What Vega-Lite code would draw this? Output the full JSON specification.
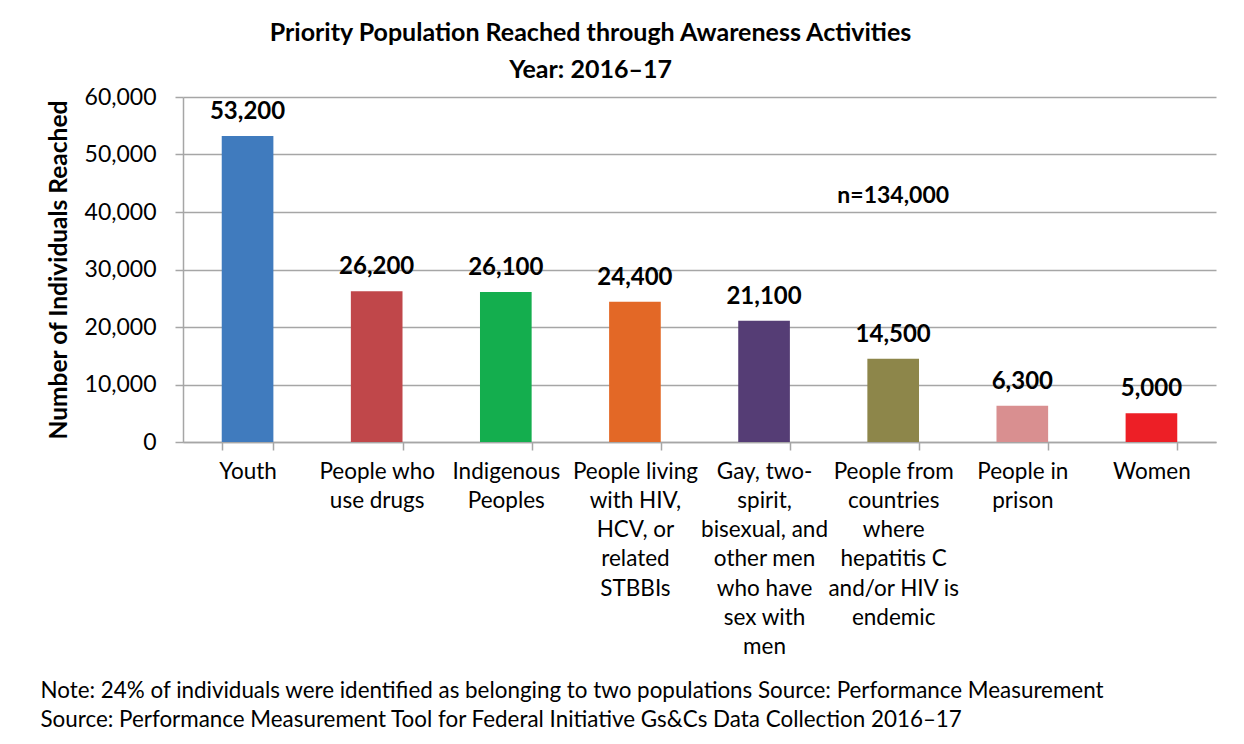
{
  "$schema": "https://vega.github.io/schema/vega-lite/v6.json",
  "autosize": {"type": "none"},
  "width": 1033,
  "height": 345,
  "padding": {"left": 183, "top": 97, "right": 28, "bottom": 302},
  "background": "white",
  "title": {
    "text": ["Priority Population Reached through Awareness Activities", "Year: 2016\u201317"],
    "font": "Lato",
    "fontSize": 25,
    "fontWeight": "bold",
    "color": "#000000",
    "anchor": "middle",
    "frame": "group",
    "lineHeight": 37,
    "dx": -109,
    "offset": 3
  },
  "data": {
    "values": [
      {"population": "Youth", "reached": 53200},
      {"population": "People who use drugs", "reached": 26200},
      {"population": "Indigenous Peoples", "reached": 26100},
      {"population": "People living with HIV, HCV, or related STBBIs", "reached": 24400},
      {"population": "Gay, two-spirit, bisexual, and other men who have sex with men", "reached": 21100},
      {"population": "People from countries where hepatitis C and/or HIV is endemic", "reached": 14500},
      {"population": "People in prison", "reached": 6300},
      {"population": "Women", "reached": 5000}
    ]
  },
  "encoding": {
    "x": {
      "field": "population",
      "type": "nominal",
      "sort": null,
      "scale": {"paddingInner": 0.6, "paddingOuter": 0.3},
      "axis": {
        "title": [
          "Note: 24% of individuals were identified as belonging to two populations Source: Performance Measurement",
          "Source: Performance Measurement Tool for Federal Initiative Gs&Cs Data Collection 2016\u201317"
        ],
        "titleFont": "Lato",
        "titleFontSize": 22.4,
        "titleFontWeight": "normal",
        "titleColor": "#000000",
        "titleAnchor": "start",
        "titleAlign": "left",
        "titleBaseline": "alphabetic",
        "titleLineHeight": 29,
        "titleX": -143,
        "titleY": 255,
        "labelAngle": 0,
        "labelFont": "Lato",
        "labelFontSize": 22.5,
        "labelColor": "#000000",
        "labelLineHeight": 29.3,
        "labelBaseline": "top",
        "labelPadding": 10,
        "labelLimit": 0,
        "labelExpr": "{'Youth': ['Youth'], 'People who use drugs': ['People who', 'use drugs'], 'Indigenous Peoples': ['Indigenous', 'Peoples'], 'People living with HIV, HCV, or related STBBIs': ['People living', 'with HIV,', 'HCV, or', 'related', 'STBBIs'], 'Gay, two-spirit, bisexual, and other men who have sex with men': ['Gay, two-', 'spirit,', 'bisexual, and', 'other men', 'who have', 'sex with', 'men'], 'People from countries where hepatitis C and/or HIV is endemic': ['People from', 'countries', 'where', 'hepatitis C', 'and/or HIV is', 'endemic'], 'People in prison': ['People in', 'prison'], 'Women': ['Women']}[datum.value]",
        "tickBand": "extent",
        "tickSize": 8,
        "tickColor": "#a6a6a6",
        "tickWidth": 1.5,
        "domainColor": "#a6a6a6",
        "domainWidth": 1.5,
        "grid": false
      }
    },
    "y": {
      "field": "reached",
      "type": "quantitative",
      "scale": {"domain": [0, 60000], "nice": false},
      "axis": {
        "title": "Number of Individuals Reached",
        "titleFont": "Lato",
        "titleFontSize": 24.5,
        "titleFontWeight": "bold",
        "titleColor": "#000000",
        "titlePadding": 13,
        "values": [0, 10000, 20000, 30000, 40000, 50000, 60000],
        "format": ",.0f",
        "labelFont": "Lato",
        "labelFontSize": 23,
        "labelColor": "#000000",
        "labelPadding": 19,
        "tickSize": 8,
        "tickColor": "#a6a6a6",
        "tickWidth": 1.5,
        "domainColor": "#a6a6a6",
        "domainWidth": 1.5,
        "grid": true,
        "gridColor": "#a6a6a6",
        "gridWidth": 1.5
      }
    }
  },
  "layer": [
    {
      "mark": {"type": "bar"},
      "encoding": {
        "color": {
          "field": "population",
          "type": "nominal",
          "sort": null,
          "legend": null,
          "scale": {
            "domain": [
              "Youth",
              "People who use drugs",
              "Indigenous Peoples",
              "People living with HIV, HCV, or related STBBIs",
              "Gay, two-spirit, bisexual, and other men who have sex with men",
              "People from countries where hepatitis C and/or HIV is endemic",
              "People in prison",
              "Women"
            ],
            "range": ["#407bbe", "#c0474a", "#14ae4e", "#e36826", "#553d75", "#8d864a", "#d98f90", "#ed1f26"]
          }
        }
      }
    },
    {
      "mark": {
        "type": "text",
        "font": "Lato",
        "fontSize": 24,
        "fontWeight": "bold",
        "color": "#000000",
        "baseline": "alphabetic",
        "dy": -17
      },
      "encoding": {
        "text": {"field": "reached", "type": "quantitative", "format": ",.0f"}
      }
    },
    {
      "data": {
        "values": [
          {"population": "People from countries where hepatitis C and/or HIV is endemic", "reached": 42800, "note": "n=134,000"}
        ]
      },
      "mark": {
        "type": "text",
        "font": "Lato",
        "fontSize": 23,
        "fontWeight": "bold",
        "color": "#000000",
        "baseline": "middle"
      },
      "encoding": {
        "text": {"field": "note", "type": "nominal"}
      }
    }
  ],
  "config": {
    "view": {"stroke": null}
  }
}
